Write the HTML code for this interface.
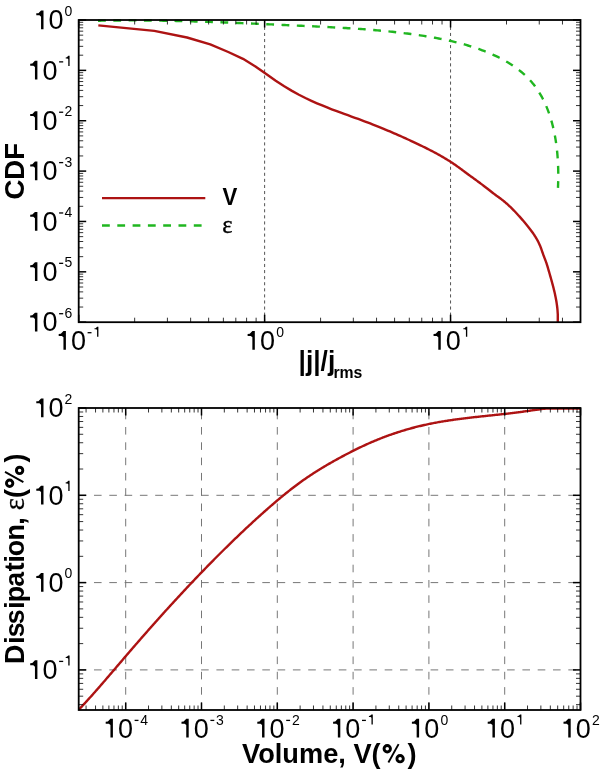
<!DOCTYPE html>
<html><head><meta charset="utf-8"><style>
html,body{margin:0;padding:0;background:#fff;}
svg{display:block;will-change:transform;}
.t{font-family:"Liberation Sans",sans-serif;font-size:26px;fill:#000;}
.s{font-size:14px;}
.b{font-family:"Liberation Sans",sans-serif;font-weight:bold;fill:#000;}
.e{font-family:"Liberation Serif",serif;fill:#000;}
</style></head><body>
<svg width="600" height="769" viewBox="0 0 600 769">
<rect width="600" height="769" fill="#fff"/>
<line x1="264.62" y1="20.00" x2="264.62" y2="322.20" stroke="#555" stroke-width="1" stroke-dasharray="3.1 2.98" stroke-dashoffset="-0.75"/>
<line x1="450.55" y1="20.00" x2="450.55" y2="322.20" stroke="#555" stroke-width="1" stroke-dasharray="3.1 2.98" stroke-dashoffset="-0.75"/>
<path d="M98.03,20.74 L99.89,20.70 L101.74,20.67 L103.60,20.64 L105.46,20.61 L107.32,20.58 L109.19,20.55 L111.05,20.53 L112.91,20.51 L114.77,20.49 L116.63,20.47 L118.49,20.46 L120.35,20.44 L122.22,20.43 L124.08,20.43 L125.94,20.42 L127.81,20.42 L129.67,20.41 L131.53,20.41 L133.40,20.42 L135.26,20.42 L137.13,20.42 L138.99,20.43 L140.85,20.44 L142.72,20.45 L144.58,20.47 L146.45,20.48 L148.32,20.50 L150.18,20.52 L152.05,20.54 L153.91,20.56 L155.78,20.58 L157.65,20.61 L159.51,20.63 L161.38,20.66 L163.25,20.69 L165.11,20.73 L166.98,20.76 L168.85,20.79 L170.71,20.83 L172.58,20.87 L174.45,20.91 L176.32,20.95 L178.19,20.99 L180.05,21.03 L181.92,21.08 L183.79,21.13 L185.66,21.17 L187.52,21.22 L189.39,21.27 L191.26,21.33 L193.13,21.38 L195.00,21.43 L196.87,21.49 L198.73,21.54 L200.60,21.60 L202.47,21.66 L204.34,21.72 L206.21,21.78 L208.08,21.84 L209.95,21.91 L211.81,21.97 L213.68,22.04 L215.55,22.10 L217.42,22.17 L219.29,22.24 L221.16,22.31 L223.02,22.38 L224.89,22.45 L226.76,22.52 L228.63,22.59 L230.50,22.66 L232.36,22.74 L234.23,22.81 L236.10,22.89 L237.97,22.96 L239.84,23.04 L241.70,23.12 L243.57,23.19 L245.44,23.27 L247.30,23.35 L249.17,23.43 L251.04,23.51 L252.91,23.59 L254.77,23.67 L256.64,23.76 L258.51,23.84 L260.37,23.92 L262.24,24.00 L264.10,24.09 L265.97,24.17 L267.83,24.25 L269.70,24.34 L271.57,24.42 L273.43,24.51 L275.30,24.59 L277.16,24.68 L279.02,24.76 L280.89,24.85 L282.75,24.94 L284.62,25.02 L286.48,25.11 L288.34,25.19 L290.21,25.28 L292.07,25.37 L293.93,25.45 L295.79,25.54 L297.66,25.62 L299.52,25.71 L301.38,25.80 L303.24,25.88 L305.10,25.97 L306.96,26.05 L308.82,26.14 L310.68,26.23 L312.54,26.31 L314.40,26.40 L316.26,26.49 L318.12,26.58 L319.98,26.67 L321.84,26.76 L323.70,26.85 L325.55,26.94 L327.41,27.04 L329.27,27.13 L331.13,27.23 L332.98,27.33 L334.84,27.43 L336.70,27.53 L338.56,27.63 L340.41,27.74 L342.27,27.84 L344.13,27.95 L345.98,28.06 L347.84,28.18 L349.69,28.29 L351.55,28.41 L353.40,28.53 L355.26,28.65 L357.12,28.78 L358.97,28.91 L360.83,29.04 L362.68,29.17 L364.54,29.31 L366.39,29.45 L368.25,29.60 L370.10,29.75 L371.96,29.90 L373.81,30.05 L375.67,30.21 L377.52,30.37 L379.37,30.54 L381.23,30.71 L383.08,30.88 L384.94,31.06 L386.79,31.24 L388.65,31.43 L390.50,31.62 L392.35,31.81 L394.21,32.01 L396.06,32.22 L397.92,32.43 L399.77,32.64 L401.63,32.86 L403.48,33.09 L405.33,33.32 L407.19,33.55 L409.04,33.79 L410.90,34.04 L412.75,34.29 L414.61,34.55 L416.46,34.81 L418.31,35.08 L420.17,35.35 L422.02,35.64 L423.88,35.92 L425.73,36.22 L427.59,36.52 L429.44,36.82 L431.30,37.14 L433.15,37.46 L435.00,37.79 L436.85,38.13 L438.70,38.48 L440.55,38.83 L442.39,39.20 L444.24,39.57 L446.08,39.96 L447.92,40.36 L449.76,40.76 L451.60,41.18 L453.43,41.61 L455.26,42.05 L457.09,42.50 L458.91,42.97 L460.73,43.44 L462.55,43.93 L464.36,44.44 L466.17,44.95 L467.97,45.48 L469.78,46.03 L471.57,46.59 L473.36,47.16 L475.15,47.75 L476.93,48.36 L478.71,48.98 L480.48,49.61 L482.25,50.27 L484.01,50.94 L485.76,51.62 L487.51,52.33 L489.25,53.05 L490.98,53.79 L492.70,54.55 L494.41,55.33 L496.11,56.12 L497.80,56.94 L499.47,57.78 L501.13,58.63 L502.78,59.51 L504.41,60.40 L506.02,61.32 L507.62,62.26 L509.20,63.22 L510.76,64.20 L512.31,65.21 L513.83,66.24 L515.33,67.29 L516.81,68.36 L518.27,69.46 L519.70,70.58 L521.11,71.72 L522.50,72.89 L523.86,74.09 L525.19,75.31 L526.50,76.55 L527.78,77.82 L529.03,79.12 L530.25,80.44 L531.44,81.79 L532.60,83.17 L533.73,84.57 L534.83,86.00 L535.89,87.46 L536.93,88.94 L537.94,90.44 L538.92,91.97 L539.87,93.52 L540.79,95.09 L541.68,96.68 L542.54,98.29 L543.38,99.93 L544.19,101.58 L544.98,103.25 L545.73,104.93 L546.46,106.64 L547.17,108.36 L547.85,110.09 L548.50,111.84 L549.13,113.61 L549.73,115.39 L550.32,117.18 L550.87,118.98 L551.41,120.79 L551.92,122.62 L552.40,124.45 L552.87,126.30 L553.31,128.15 L553.74,130.01 L554.14,131.88 L554.52,133.76 L554.88,135.64 L555.21,137.52 L555.53,139.41 L555.83,141.31 L556.11,143.21 L556.37,145.11 L556.62,147.01 L556.84,148.91 L557.05,150.81 L557.24,152.72 L557.41,154.62 L557.56,156.52 L557.70,158.42 L557.82,160.31 L557.93,162.20 L558.02,164.09 L558.10,165.97 L558.16,167.84 L558.21,169.71 L558.24,171.57 L558.26,173.43 L558.27,175.27 L558.26,177.11 L558.24,178.93 L558.21,180.75 L558.16,182.55 L558.11,184.34 L558.04,186.12 L557.97,187.89" fill="none" stroke="#20b620" stroke-width="2.4" stroke-linejoin="round" stroke-dasharray="7.8 7.5" stroke-linecap="butt"/>
<path d="M98.32,25.40 L154.29,30.90 L187.02,37.50 L210.25,44.30 L228.27,52.00 L242.99,58.80 L255.44,66.50 L266.22,73.99 L275.73,80.67 L284.24,86.28 L291.94,90.87 L298.96,94.70 L305.42,97.97 L311.41,100.79 L316.98,103.28 L322.19,105.48 L327.09,107.46 L331.70,109.26 L336.07,110.90 L340.21,112.43 L344.15,113.86 L347.90,115.22 L351.49,116.51 L354.93,117.76 L358.23,118.96 L361.39,120.13 L364.44,121.27 L367.38,122.39 L370.21,123.48 L372.95,124.55 L375.59,125.60 L378.16,126.63 L380.64,127.63 L383.05,128.62 L385.39,129.58 L387.67,130.53 L389.88,131.47 L392.03,132.39 L394.13,133.29 L396.18,134.17 L398.17,135.05 L400.12,135.91 L402.02,136.75 L403.87,137.59 L405.69,138.41 L407.46,139.22 L409.20,140.01 L410.90,140.80 L412.56,141.58 L414.19,142.34 L415.79,143.10 L417.36,143.84 L418.90,144.58 L420.41,145.31 L421.89,146.03 L423.34,146.74 L424.77,147.44 L426.18,148.14 L427.56,148.83 L428.92,149.52 L430.25,150.20 L431.56,150.88 L432.86,151.55 L434.13,152.23 L435.38,152.89 L436.61,153.56 L437.83,154.23 L439.02,154.89 L440.20,155.55 L441.36,156.21 L442.51,156.87 L443.64,157.53 L444.75,158.19 L445.85,158.85 L446.93,159.51 L448.00,160.17 L449.06,160.84 L450.10,161.50 L451.13,162.17 L452.14,162.83 L453.15,163.50 L454.14,164.17 L455.12,164.85 L456.08,165.52 L457.04,166.20 L457.98,166.88 L458.92,167.55 L459.84,168.23 L460.75,168.90 L461.65,169.57 L462.55,170.23 L463.43,170.89 L464.30,171.54 L465.17,172.18 L466.02,172.82 L466.87,173.45 L467.70,174.06 L468.53,174.67 L469.35,175.27 L470.16,175.86 L470.97,176.44 L471.76,177.02 L472.55,177.58 L473.33,178.15 L474.10,178.70 L474.87,179.26 L475.63,179.81 L476.38,180.36 L477.12,180.90 L477.86,181.45 L478.59,181.99 L479.31,182.52 L480.03,183.06 L480.74,183.59 L481.45,184.12 L482.15,184.64 L482.84,185.17 L483.53,185.69 L484.21,186.21 L484.88,186.72 L485.55,187.24 L486.22,187.75 L486.88,188.26 L487.53,188.76 L488.18,189.27 L488.82,189.77 L489.46,190.27 L490.10,190.77 L490.72,191.26 L491.35,191.75 L491.97,192.23 L492.58,192.71 L493.19,193.18 L493.79,193.64 L494.39,194.10 L494.99,194.54 L495.58,194.98 L496.17,195.41 L496.75,195.84 L497.33,196.26 L497.91,196.68 L498.48,197.09 L499.04,197.51 L499.61,197.92 L500.16,198.33 L500.72,198.74 L501.27,199.16 L501.82,199.58 L502.36,200.00 L502.90,200.43 L503.44,200.86 L503.97,201.29 L504.50,201.73 L505.03,202.17 L505.55,202.61 L506.07,203.06 L506.58,203.51 L507.10,203.96 L507.61,204.42 L508.11,204.87 L508.62,205.34 L509.12,205.80 L509.61,206.26 L510.11,206.73 L510.60,207.20 L511.09,207.67 L511.57,208.15 L512.05,208.63 L512.53,209.10 L513.01,209.58 L513.48,210.07 L513.95,210.55 L514.42,211.03 L514.89,211.52 L515.35,212.01 L515.81,212.49 L516.27,212.98 L516.72,213.47 L517.17,213.96 L517.62,214.45 L518.07,214.94 L518.52,215.44 L518.96,215.93 L519.40,216.42 L519.84,216.91 L520.27,217.40 L520.70,217.89 L521.13,218.38 L521.56,218.87 L521.99,219.36 L522.41,219.85 L522.83,220.34 L523.25,220.83 L523.67,221.32 L524.09,221.80 L524.50,222.29 L524.91,222.77 L525.32,223.26 L525.73,223.74 L526.13,224.23 L526.53,224.72 L526.93,225.20 L527.33,225.69 L527.73,226.18 L528.12,226.67 L528.52,227.16 L528.91,227.66 L529.30,228.15 L529.68,228.65 L530.07,229.15 L530.45,229.66 L530.84,230.16 L531.22,230.67 L531.59,231.19 L531.97,231.71 L532.34,232.23 L532.72,232.76 L533.09,233.29 L533.46,233.83 L533.83,234.37 L534.19,234.92 L534.56,235.48 L534.92,236.04 L535.28,236.62 L535.64,237.20 L536.00,237.79 L536.36,238.39 L536.71,239.00 L537.06,239.63 L537.42,240.26 L537.77,240.91 L538.11,241.58 L538.46,242.27 L538.81,242.97 L539.15,243.69 L539.50,244.44 L539.84,245.22 L540.18,246.02 L540.52,246.86 L540.85,247.74 L541.19,248.65 L541.52,249.60 L541.86,250.56 L542.19,251.54 L542.52,252.50 L542.85,253.46 L543.17,254.39 L543.50,255.28 L543.82,256.15 L544.15,256.99 L544.47,257.83 L544.79,258.65 L545.11,259.48 L545.43,260.31 L545.75,261.16 L546.06,262.03 L546.38,262.92 L546.69,263.86 L547.00,264.83 L547.32,265.83 L547.63,266.86 L547.93,267.92 L548.24,268.98 L548.55,270.06 L548.85,271.12 L549.16,272.18 L549.46,273.24 L549.76,274.29 L550.06,275.35 L550.36,276.39 L550.66,277.44 L550.96,278.50 L551.25,279.55 L551.55,280.61 L551.84,281.67 L552.14,282.74 L552.43,283.82 L552.72,284.91 L553.01,286.02 L553.30,287.14 L553.59,288.27 L553.87,289.43 L554.16,290.60 L554.44,291.81 L554.73,293.05 L555.01,294.32 L555.29,295.64 L555.57,297.01 L555.85,298.45 L556.13,299.97 L556.41,301.58 L556.69,303.33 L556.96,305.27 L557.24,307.49 L557.51,310.22 L557.79,314.41 L557.79,322.30" fill="none" stroke="#ad1313" stroke-width="2.4" stroke-linejoin="round" />
<line x1="78.70" y1="322.20" x2="78.70" y2="314.70" stroke="#000" stroke-width="1.5" />
<line x1="78.70" y1="20.00" x2="78.70" y2="27.50" stroke="#000" stroke-width="1.5" />
<line x1="134.67" y1="322.20" x2="134.67" y2="317.70" stroke="#000" stroke-width="0.8" />
<line x1="134.67" y1="20.00" x2="134.67" y2="24.50" stroke="#000" stroke-width="0.8" />
<line x1="167.41" y1="322.20" x2="167.41" y2="317.70" stroke="#000" stroke-width="0.8" />
<line x1="167.41" y1="20.00" x2="167.41" y2="24.50" stroke="#000" stroke-width="0.8" />
<line x1="190.64" y1="322.20" x2="190.64" y2="317.70" stroke="#000" stroke-width="0.8" />
<line x1="190.64" y1="20.00" x2="190.64" y2="24.50" stroke="#000" stroke-width="0.8" />
<line x1="208.65" y1="322.20" x2="208.65" y2="317.70" stroke="#000" stroke-width="0.8" />
<line x1="208.65" y1="20.00" x2="208.65" y2="24.50" stroke="#000" stroke-width="0.8" />
<line x1="223.38" y1="322.20" x2="223.38" y2="317.70" stroke="#000" stroke-width="0.8" />
<line x1="223.38" y1="20.00" x2="223.38" y2="24.50" stroke="#000" stroke-width="0.8" />
<line x1="235.82" y1="322.20" x2="235.82" y2="317.70" stroke="#000" stroke-width="0.8" />
<line x1="235.82" y1="20.00" x2="235.82" y2="24.50" stroke="#000" stroke-width="0.8" />
<line x1="246.60" y1="322.20" x2="246.60" y2="317.70" stroke="#000" stroke-width="0.8" />
<line x1="246.60" y1="20.00" x2="246.60" y2="24.50" stroke="#000" stroke-width="0.8" />
<line x1="256.12" y1="322.20" x2="256.12" y2="317.70" stroke="#000" stroke-width="0.8" />
<line x1="256.12" y1="20.00" x2="256.12" y2="24.50" stroke="#000" stroke-width="0.8" />
<line x1="264.62" y1="322.20" x2="264.62" y2="314.70" stroke="#000" stroke-width="1.5" />
<line x1="264.62" y1="20.00" x2="264.62" y2="27.50" stroke="#000" stroke-width="1.5" />
<line x1="320.59" y1="322.20" x2="320.59" y2="317.70" stroke="#000" stroke-width="0.8" />
<line x1="320.59" y1="20.00" x2="320.59" y2="24.50" stroke="#000" stroke-width="0.8" />
<line x1="353.33" y1="322.20" x2="353.33" y2="317.70" stroke="#000" stroke-width="0.8" />
<line x1="353.33" y1="20.00" x2="353.33" y2="24.50" stroke="#000" stroke-width="0.8" />
<line x1="376.56" y1="322.20" x2="376.56" y2="317.70" stroke="#000" stroke-width="0.8" />
<line x1="376.56" y1="20.00" x2="376.56" y2="24.50" stroke="#000" stroke-width="0.8" />
<line x1="394.58" y1="322.20" x2="394.58" y2="317.70" stroke="#000" stroke-width="0.8" />
<line x1="394.58" y1="20.00" x2="394.58" y2="24.50" stroke="#000" stroke-width="0.8" />
<line x1="409.30" y1="322.20" x2="409.30" y2="317.70" stroke="#000" stroke-width="0.8" />
<line x1="409.30" y1="20.00" x2="409.30" y2="24.50" stroke="#000" stroke-width="0.8" />
<line x1="421.75" y1="322.20" x2="421.75" y2="317.70" stroke="#000" stroke-width="0.8" />
<line x1="421.75" y1="20.00" x2="421.75" y2="24.50" stroke="#000" stroke-width="0.8" />
<line x1="432.53" y1="322.20" x2="432.53" y2="317.70" stroke="#000" stroke-width="0.8" />
<line x1="432.53" y1="20.00" x2="432.53" y2="24.50" stroke="#000" stroke-width="0.8" />
<line x1="442.04" y1="322.20" x2="442.04" y2="317.70" stroke="#000" stroke-width="0.8" />
<line x1="442.04" y1="20.00" x2="442.04" y2="24.50" stroke="#000" stroke-width="0.8" />
<line x1="450.55" y1="322.20" x2="450.55" y2="314.70" stroke="#000" stroke-width="1.5" />
<line x1="450.55" y1="20.00" x2="450.55" y2="27.50" stroke="#000" stroke-width="1.5" />
<line x1="506.51" y1="322.20" x2="506.51" y2="317.70" stroke="#000" stroke-width="0.8" />
<line x1="506.51" y1="20.00" x2="506.51" y2="24.50" stroke="#000" stroke-width="0.8" />
<line x1="539.25" y1="322.20" x2="539.25" y2="317.70" stroke="#000" stroke-width="0.8" />
<line x1="539.25" y1="20.00" x2="539.25" y2="24.50" stroke="#000" stroke-width="0.8" />
<line x1="562.48" y1="322.20" x2="562.48" y2="317.70" stroke="#000" stroke-width="0.8" />
<line x1="562.48" y1="20.00" x2="562.48" y2="24.50" stroke="#000" stroke-width="0.8" />
<line x1="580.50" y1="322.20" x2="580.50" y2="317.70" stroke="#000" stroke-width="0.8" />
<line x1="580.50" y1="20.00" x2="580.50" y2="24.50" stroke="#000" stroke-width="0.8" />
<line x1="78.70" y1="322.20" x2="86.20" y2="322.20" stroke="#000" stroke-width="1.5" />
<line x1="580.50" y1="322.20" x2="573.00" y2="322.20" stroke="#000" stroke-width="1.5" />
<line x1="78.70" y1="307.04" x2="83.20" y2="307.04" stroke="#000" stroke-width="0.8" />
<line x1="580.50" y1="307.04" x2="576.00" y2="307.04" stroke="#000" stroke-width="0.8" />
<line x1="78.70" y1="298.17" x2="83.20" y2="298.17" stroke="#000" stroke-width="0.8" />
<line x1="580.50" y1="298.17" x2="576.00" y2="298.17" stroke="#000" stroke-width="0.8" />
<line x1="78.70" y1="291.88" x2="83.20" y2="291.88" stroke="#000" stroke-width="0.8" />
<line x1="580.50" y1="291.88" x2="576.00" y2="291.88" stroke="#000" stroke-width="0.8" />
<line x1="78.70" y1="287.00" x2="83.20" y2="287.00" stroke="#000" stroke-width="0.8" />
<line x1="580.50" y1="287.00" x2="576.00" y2="287.00" stroke="#000" stroke-width="0.8" />
<line x1="78.70" y1="283.01" x2="83.20" y2="283.01" stroke="#000" stroke-width="0.8" />
<line x1="580.50" y1="283.01" x2="576.00" y2="283.01" stroke="#000" stroke-width="0.8" />
<line x1="78.70" y1="279.64" x2="83.20" y2="279.64" stroke="#000" stroke-width="0.8" />
<line x1="580.50" y1="279.64" x2="576.00" y2="279.64" stroke="#000" stroke-width="0.8" />
<line x1="78.70" y1="276.71" x2="83.20" y2="276.71" stroke="#000" stroke-width="0.8" />
<line x1="580.50" y1="276.71" x2="576.00" y2="276.71" stroke="#000" stroke-width="0.8" />
<line x1="78.70" y1="274.14" x2="83.20" y2="274.14" stroke="#000" stroke-width="0.8" />
<line x1="580.50" y1="274.14" x2="576.00" y2="274.14" stroke="#000" stroke-width="0.8" />
<line x1="78.70" y1="271.83" x2="86.20" y2="271.83" stroke="#000" stroke-width="1.5" />
<line x1="580.50" y1="271.83" x2="573.00" y2="271.83" stroke="#000" stroke-width="1.5" />
<line x1="78.70" y1="256.67" x2="83.20" y2="256.67" stroke="#000" stroke-width="0.8" />
<line x1="580.50" y1="256.67" x2="576.00" y2="256.67" stroke="#000" stroke-width="0.8" />
<line x1="78.70" y1="247.80" x2="83.20" y2="247.80" stroke="#000" stroke-width="0.8" />
<line x1="580.50" y1="247.80" x2="576.00" y2="247.80" stroke="#000" stroke-width="0.8" />
<line x1="78.70" y1="241.51" x2="83.20" y2="241.51" stroke="#000" stroke-width="0.8" />
<line x1="580.50" y1="241.51" x2="576.00" y2="241.51" stroke="#000" stroke-width="0.8" />
<line x1="78.70" y1="236.63" x2="83.20" y2="236.63" stroke="#000" stroke-width="0.8" />
<line x1="580.50" y1="236.63" x2="576.00" y2="236.63" stroke="#000" stroke-width="0.8" />
<line x1="78.70" y1="232.64" x2="83.20" y2="232.64" stroke="#000" stroke-width="0.8" />
<line x1="580.50" y1="232.64" x2="576.00" y2="232.64" stroke="#000" stroke-width="0.8" />
<line x1="78.70" y1="229.27" x2="83.20" y2="229.27" stroke="#000" stroke-width="0.8" />
<line x1="580.50" y1="229.27" x2="576.00" y2="229.27" stroke="#000" stroke-width="0.8" />
<line x1="78.70" y1="226.35" x2="83.20" y2="226.35" stroke="#000" stroke-width="0.8" />
<line x1="580.50" y1="226.35" x2="576.00" y2="226.35" stroke="#000" stroke-width="0.8" />
<line x1="78.70" y1="223.77" x2="83.20" y2="223.77" stroke="#000" stroke-width="0.8" />
<line x1="580.50" y1="223.77" x2="576.00" y2="223.77" stroke="#000" stroke-width="0.8" />
<line x1="78.70" y1="221.47" x2="86.20" y2="221.47" stroke="#000" stroke-width="1.5" />
<line x1="580.50" y1="221.47" x2="573.00" y2="221.47" stroke="#000" stroke-width="1.5" />
<line x1="78.70" y1="206.30" x2="83.20" y2="206.30" stroke="#000" stroke-width="0.8" />
<line x1="580.50" y1="206.30" x2="576.00" y2="206.30" stroke="#000" stroke-width="0.8" />
<line x1="78.70" y1="197.44" x2="83.20" y2="197.44" stroke="#000" stroke-width="0.8" />
<line x1="580.50" y1="197.44" x2="576.00" y2="197.44" stroke="#000" stroke-width="0.8" />
<line x1="78.70" y1="191.14" x2="83.20" y2="191.14" stroke="#000" stroke-width="0.8" />
<line x1="580.50" y1="191.14" x2="576.00" y2="191.14" stroke="#000" stroke-width="0.8" />
<line x1="78.70" y1="186.26" x2="83.20" y2="186.26" stroke="#000" stroke-width="0.8" />
<line x1="580.50" y1="186.26" x2="576.00" y2="186.26" stroke="#000" stroke-width="0.8" />
<line x1="78.70" y1="182.27" x2="83.20" y2="182.27" stroke="#000" stroke-width="0.8" />
<line x1="580.50" y1="182.27" x2="576.00" y2="182.27" stroke="#000" stroke-width="0.8" />
<line x1="78.70" y1="178.90" x2="83.20" y2="178.90" stroke="#000" stroke-width="0.8" />
<line x1="580.50" y1="178.90" x2="576.00" y2="178.90" stroke="#000" stroke-width="0.8" />
<line x1="78.70" y1="175.98" x2="83.20" y2="175.98" stroke="#000" stroke-width="0.8" />
<line x1="580.50" y1="175.98" x2="576.00" y2="175.98" stroke="#000" stroke-width="0.8" />
<line x1="78.70" y1="173.40" x2="83.20" y2="173.40" stroke="#000" stroke-width="0.8" />
<line x1="580.50" y1="173.40" x2="576.00" y2="173.40" stroke="#000" stroke-width="0.8" />
<line x1="78.70" y1="171.10" x2="86.20" y2="171.10" stroke="#000" stroke-width="1.5" />
<line x1="580.50" y1="171.10" x2="573.00" y2="171.10" stroke="#000" stroke-width="1.5" />
<line x1="78.70" y1="155.94" x2="83.20" y2="155.94" stroke="#000" stroke-width="0.8" />
<line x1="580.50" y1="155.94" x2="576.00" y2="155.94" stroke="#000" stroke-width="0.8" />
<line x1="78.70" y1="147.07" x2="83.20" y2="147.07" stroke="#000" stroke-width="0.8" />
<line x1="580.50" y1="147.07" x2="576.00" y2="147.07" stroke="#000" stroke-width="0.8" />
<line x1="78.70" y1="140.78" x2="83.20" y2="140.78" stroke="#000" stroke-width="0.8" />
<line x1="580.50" y1="140.78" x2="576.00" y2="140.78" stroke="#000" stroke-width="0.8" />
<line x1="78.70" y1="135.90" x2="83.20" y2="135.90" stroke="#000" stroke-width="0.8" />
<line x1="580.50" y1="135.90" x2="576.00" y2="135.90" stroke="#000" stroke-width="0.8" />
<line x1="78.70" y1="131.91" x2="83.20" y2="131.91" stroke="#000" stroke-width="0.8" />
<line x1="580.50" y1="131.91" x2="576.00" y2="131.91" stroke="#000" stroke-width="0.8" />
<line x1="78.70" y1="128.54" x2="83.20" y2="128.54" stroke="#000" stroke-width="0.8" />
<line x1="580.50" y1="128.54" x2="576.00" y2="128.54" stroke="#000" stroke-width="0.8" />
<line x1="78.70" y1="125.61" x2="83.20" y2="125.61" stroke="#000" stroke-width="0.8" />
<line x1="580.50" y1="125.61" x2="576.00" y2="125.61" stroke="#000" stroke-width="0.8" />
<line x1="78.70" y1="123.04" x2="83.20" y2="123.04" stroke="#000" stroke-width="0.8" />
<line x1="580.50" y1="123.04" x2="576.00" y2="123.04" stroke="#000" stroke-width="0.8" />
<line x1="78.70" y1="120.73" x2="86.20" y2="120.73" stroke="#000" stroke-width="1.5" />
<line x1="580.50" y1="120.73" x2="573.00" y2="120.73" stroke="#000" stroke-width="1.5" />
<line x1="78.70" y1="105.57" x2="83.20" y2="105.57" stroke="#000" stroke-width="0.8" />
<line x1="580.50" y1="105.57" x2="576.00" y2="105.57" stroke="#000" stroke-width="0.8" />
<line x1="78.70" y1="96.70" x2="83.20" y2="96.70" stroke="#000" stroke-width="0.8" />
<line x1="580.50" y1="96.70" x2="576.00" y2="96.70" stroke="#000" stroke-width="0.8" />
<line x1="78.70" y1="90.41" x2="83.20" y2="90.41" stroke="#000" stroke-width="0.8" />
<line x1="580.50" y1="90.41" x2="576.00" y2="90.41" stroke="#000" stroke-width="0.8" />
<line x1="78.70" y1="85.53" x2="83.20" y2="85.53" stroke="#000" stroke-width="0.8" />
<line x1="580.50" y1="85.53" x2="576.00" y2="85.53" stroke="#000" stroke-width="0.8" />
<line x1="78.70" y1="81.54" x2="83.20" y2="81.54" stroke="#000" stroke-width="0.8" />
<line x1="580.50" y1="81.54" x2="576.00" y2="81.54" stroke="#000" stroke-width="0.8" />
<line x1="78.70" y1="78.17" x2="83.20" y2="78.17" stroke="#000" stroke-width="0.8" />
<line x1="580.50" y1="78.17" x2="576.00" y2="78.17" stroke="#000" stroke-width="0.8" />
<line x1="78.70" y1="75.25" x2="83.20" y2="75.25" stroke="#000" stroke-width="0.8" />
<line x1="580.50" y1="75.25" x2="576.00" y2="75.25" stroke="#000" stroke-width="0.8" />
<line x1="78.70" y1="72.67" x2="83.20" y2="72.67" stroke="#000" stroke-width="0.8" />
<line x1="580.50" y1="72.67" x2="576.00" y2="72.67" stroke="#000" stroke-width="0.8" />
<line x1="78.70" y1="70.37" x2="86.20" y2="70.37" stroke="#000" stroke-width="1.5" />
<line x1="580.50" y1="70.37" x2="573.00" y2="70.37" stroke="#000" stroke-width="1.5" />
<line x1="78.70" y1="55.20" x2="83.20" y2="55.20" stroke="#000" stroke-width="0.8" />
<line x1="580.50" y1="55.20" x2="576.00" y2="55.20" stroke="#000" stroke-width="0.8" />
<line x1="78.70" y1="46.34" x2="83.20" y2="46.34" stroke="#000" stroke-width="0.8" />
<line x1="580.50" y1="46.34" x2="576.00" y2="46.34" stroke="#000" stroke-width="0.8" />
<line x1="78.70" y1="40.04" x2="83.20" y2="40.04" stroke="#000" stroke-width="0.8" />
<line x1="580.50" y1="40.04" x2="576.00" y2="40.04" stroke="#000" stroke-width="0.8" />
<line x1="78.70" y1="35.16" x2="83.20" y2="35.16" stroke="#000" stroke-width="0.8" />
<line x1="580.50" y1="35.16" x2="576.00" y2="35.16" stroke="#000" stroke-width="0.8" />
<line x1="78.70" y1="31.17" x2="83.20" y2="31.17" stroke="#000" stroke-width="0.8" />
<line x1="580.50" y1="31.17" x2="576.00" y2="31.17" stroke="#000" stroke-width="0.8" />
<line x1="78.70" y1="27.80" x2="83.20" y2="27.80" stroke="#000" stroke-width="0.8" />
<line x1="580.50" y1="27.80" x2="576.00" y2="27.80" stroke="#000" stroke-width="0.8" />
<line x1="78.70" y1="24.88" x2="83.20" y2="24.88" stroke="#000" stroke-width="0.8" />
<line x1="580.50" y1="24.88" x2="576.00" y2="24.88" stroke="#000" stroke-width="0.8" />
<line x1="78.70" y1="22.30" x2="83.20" y2="22.30" stroke="#000" stroke-width="0.8" />
<line x1="580.50" y1="22.30" x2="576.00" y2="22.30" stroke="#000" stroke-width="0.8" />
<line x1="78.70" y1="20.00" x2="86.20" y2="20.00" stroke="#000" stroke-width="1.5" />
<line x1="580.50" y1="20.00" x2="573.00" y2="20.00" stroke="#000" stroke-width="1.5" />
<rect x="78.7" y="20.0" width="501.80" height="302.20" fill="none" stroke="#000" stroke-width="1.8"/>
<text transform="translate(63.60,29.20) scale(1.04,1.05)" text-anchor="end" class="t" style="font-size:26px">0</text>
<path d="M43.50,29.20 L43.50,10.45 L41.05,10.45 L38.45,13.15 L36.30,13.35 L36.30,15.35 L39.45,15.35 L41.05,16.75 L41.05,29.20Z" fill="#000"/>
<text transform="translate(72.30,15.60) scale(1.0,1.05)" text-anchor="end" class="t" style="font-size:14px">0</text>
<text transform="translate(57.50,79.57) scale(1.04,1.05)" text-anchor="end" class="t" style="font-size:26px">0</text>
<path d="M37.40,79.57 L37.40,60.82 L34.95,60.82 L32.35,63.52 L30.20,63.72 L30.20,65.72 L33.35,65.72 L34.95,67.12 L34.95,79.57Z" fill="#000"/>
<path d="M69.60,65.97 L69.60,55.87 L68.28,55.87 L66.88,57.32 L65.72,57.43 L65.72,58.51 L67.42,58.51 L68.28,59.26 L68.28,65.97Z" fill="#000"/>
<line x1="59.10" y1="61.87" x2="63.20" y2="61.87" stroke="#000" stroke-width="1.3"/>
<text transform="translate(57.50,129.93) scale(1.04,1.05)" text-anchor="end" class="t" style="font-size:26px">0</text>
<path d="M37.40,129.93 L37.40,111.18 L34.95,111.18 L32.35,113.88 L30.20,114.08 L30.20,116.08 L33.35,116.08 L34.95,117.48 L34.95,129.93Z" fill="#000"/>
<text transform="translate(72.30,116.33) scale(1.0,1.05)" text-anchor="end" class="t" style="font-size:14px">2</text>
<line x1="59.10" y1="112.23" x2="63.20" y2="112.23" stroke="#000" stroke-width="1.3"/>
<text transform="translate(57.50,180.30) scale(1.04,1.05)" text-anchor="end" class="t" style="font-size:26px">0</text>
<path d="M37.40,180.30 L37.40,161.55 L34.95,161.55 L32.35,164.25 L30.20,164.45 L30.20,166.45 L33.35,166.45 L34.95,167.85 L34.95,180.30Z" fill="#000"/>
<text transform="translate(72.30,166.70) scale(1.0,1.05)" text-anchor="end" class="t" style="font-size:14px">3</text>
<line x1="59.10" y1="162.60" x2="63.20" y2="162.60" stroke="#000" stroke-width="1.3"/>
<text transform="translate(57.50,230.67) scale(1.04,1.05)" text-anchor="end" class="t" style="font-size:26px">0</text>
<path d="M37.40,230.67 L37.40,211.92 L34.95,211.92 L32.35,214.62 L30.20,214.82 L30.20,216.82 L33.35,216.82 L34.95,218.22 L34.95,230.67Z" fill="#000"/>
<text transform="translate(72.30,217.07) scale(1.0,1.05)" text-anchor="end" class="t" style="font-size:14px">4</text>
<line x1="59.10" y1="212.97" x2="63.20" y2="212.97" stroke="#000" stroke-width="1.3"/>
<text transform="translate(57.50,281.03) scale(1.04,1.05)" text-anchor="end" class="t" style="font-size:26px">0</text>
<path d="M37.40,281.03 L37.40,262.28 L34.95,262.28 L32.35,264.98 L30.20,265.18 L30.20,267.18 L33.35,267.18 L34.95,268.58 L34.95,281.03Z" fill="#000"/>
<text transform="translate(72.30,267.43) scale(1.0,1.05)" text-anchor="end" class="t" style="font-size:14px">5</text>
<line x1="59.10" y1="263.33" x2="63.20" y2="263.33" stroke="#000" stroke-width="1.3"/>
<text transform="translate(57.50,331.40) scale(1.04,1.05)" text-anchor="end" class="t" style="font-size:26px">0</text>
<path d="M37.40,331.40 L37.40,312.65 L34.95,312.65 L32.35,315.35 L30.20,315.55 L30.20,317.55 L33.35,317.55 L34.95,318.95 L34.95,331.40Z" fill="#000"/>
<text transform="translate(72.30,317.80) scale(1.0,1.05)" text-anchor="end" class="t" style="font-size:14px">6</text>
<line x1="59.10" y1="313.70" x2="63.20" y2="313.70" stroke="#000" stroke-width="1.3"/>
<text transform="translate(86.00,349.80) scale(1.04,1.05)" text-anchor="end" class="t" style="font-size:26px">0</text>
<path d="M65.90,349.80 L65.90,331.05 L63.45,331.05 L60.85,333.75 L58.70,333.95 L58.70,335.95 L61.85,335.95 L63.45,337.35 L63.45,349.80Z" fill="#000"/>
<path d="M98.40,336.80 L98.40,326.70 L97.08,326.70 L95.68,328.16 L94.52,328.27 L94.52,329.34 L96.22,329.34 L97.08,330.10 L97.08,336.80Z" fill="#000"/>
<line x1="87.60" y1="332.70" x2="91.50" y2="332.70" stroke="#000" stroke-width="1.3"/>
<text transform="translate(274.92,349.80) scale(1.04,1.05)" text-anchor="end" class="t" style="font-size:26px">0</text>
<path d="M254.82,349.80 L254.82,331.05 L252.37,331.05 L249.77,333.75 L247.62,333.95 L247.62,335.95 L250.77,335.95 L252.37,337.35 L252.37,349.80Z" fill="#000"/>
<text transform="translate(284.02,336.80) scale(1.0,1.05)" text-anchor="end" class="t" style="font-size:14px">0</text>
<text transform="translate(460.85,349.80) scale(1.04,1.05)" text-anchor="end" class="t" style="font-size:26px">0</text>
<path d="M440.75,349.80 L440.75,331.05 L438.30,331.05 L435.70,333.75 L433.55,333.95 L433.55,335.95 L436.70,335.95 L438.30,337.35 L438.30,349.80Z" fill="#000"/>
<path d="M467.25,336.80 L467.25,326.70 L465.93,326.70 L464.53,328.16 L463.37,328.27 L463.37,329.34 L465.06,329.34 L465.93,330.10 L465.93,336.80Z" fill="#000"/>
<line x1="102.00" y1="198.10" x2="205.30" y2="198.10" stroke="#ad1313" stroke-width="2.4" />
<line x1="102.00" y1="225.50" x2="206.00" y2="225.50" stroke="#20b620" stroke-width="2.4" stroke-dasharray="7.8 7.5"/>
<text transform="translate(222.5,204.8) scale(1,1.06)" class="b" style="font-size:22.2px">V</text>
<text x="222.2" y="232.6" class="e" style="font-size:24.5px;stroke:#000;stroke-width:0.35">&#949;</text>
<text transform="translate(23.7,171.2) rotate(-90)" text-anchor="middle" class="b" style="font-size:27.6px">CDF</text>
<text transform="translate(298.6,370.2) scale(1,1.02)" class="b" style="font-size:26.3px">|j|/j</text>
<text x="333.4" y="378.3" class="b" style="font-size:15.8px">rms</text>
<line x1="125.70" y1="710.00" x2="125.70" y2="408.00" stroke="#777" stroke-width="1" stroke-dasharray="7.6 7.7"/>
<line x1="201.50" y1="710.00" x2="201.50" y2="408.00" stroke="#777" stroke-width="1" stroke-dasharray="7.6 7.7"/>
<line x1="277.30" y1="710.00" x2="277.30" y2="408.00" stroke="#777" stroke-width="1" stroke-dasharray="7.6 7.7"/>
<line x1="353.10" y1="710.00" x2="353.10" y2="408.00" stroke="#777" stroke-width="1" stroke-dasharray="7.6 7.7"/>
<line x1="428.90" y1="710.00" x2="428.90" y2="408.00" stroke="#777" stroke-width="1" stroke-dasharray="7.6 7.7"/>
<line x1="504.70" y1="710.00" x2="504.70" y2="408.00" stroke="#777" stroke-width="1" stroke-dasharray="7.6 7.7"/>
<line x1="78.70" y1="669.90" x2="580.50" y2="669.90" stroke="#777" stroke-width="1" stroke-dasharray="7.6 7.7"/>
<line x1="78.70" y1="582.60" x2="580.50" y2="582.60" stroke="#777" stroke-width="1" stroke-dasharray="7.6 7.7"/>
<line x1="78.70" y1="495.30" x2="580.50" y2="495.30" stroke="#777" stroke-width="1" stroke-dasharray="7.6 7.7"/>
<path d="M78.70,709.78 L79.70,708.72 L80.71,707.66 L81.71,706.58 L82.72,705.51 L83.72,704.43 L84.73,703.34 L85.73,702.24 L86.74,701.15 L87.74,700.04 L88.75,698.93 L89.75,697.82 L90.76,696.70 L91.76,695.58 L92.76,694.45 L93.77,693.32 L94.77,692.19 L95.78,691.05 L96.78,689.91 L97.79,688.76 L98.79,687.61 L99.80,686.46 L100.80,685.30 L101.81,684.15 L102.81,682.99 L103.82,681.82 L104.82,680.66 L105.82,679.49 L106.83,678.32 L107.83,677.15 L108.84,675.98 L109.84,674.81 L110.85,673.63 L111.85,672.46 L112.86,671.28 L113.86,670.10 L114.87,668.92 L115.87,667.75 L116.88,666.57 L117.88,665.39 L118.88,664.21 L119.89,663.03 L120.89,661.85 L121.90,660.68 L122.90,659.50 L123.91,658.32 L124.91,657.15 L125.92,655.98 L126.92,654.80 L127.93,653.63 L128.93,652.46 L129.94,651.30 L130.94,650.13 L131.94,648.97 L132.95,647.80 L133.95,646.64 L134.96,645.48 L135.96,644.32 L136.97,643.17 L137.97,642.01 L138.98,640.86 L139.98,639.71 L140.99,638.56 L141.99,637.41 L142.99,636.26 L144.00,635.11 L145.00,633.97 L146.01,632.83 L147.01,631.69 L148.02,630.55 L149.02,629.41 L150.03,628.27 L151.03,627.14 L152.04,626.00 L153.04,624.87 L154.05,623.74 L155.05,622.61 L156.05,621.49 L157.06,620.36 L158.06,619.24 L159.07,618.12 L160.07,617.00 L161.08,615.88 L162.08,614.77 L163.09,613.65 L164.09,612.54 L165.10,611.43 L166.10,610.32 L167.11,609.21 L168.11,608.10 L169.11,607.00 L170.12,605.90 L171.12,604.80 L172.13,603.70 L173.13,602.60 L174.14,601.51 L175.14,600.41 L176.15,599.32 L177.15,598.23 L178.16,597.14 L179.16,596.06 L180.17,594.98 L181.17,593.89 L182.17,592.81 L183.18,591.73 L184.18,590.66 L185.19,589.58 L186.19,588.51 L187.20,587.44 L188.20,586.37 L189.21,585.30 L190.21,584.24 L191.22,583.18 L192.22,582.11 L193.23,581.05 L194.23,580.00 L195.23,578.94 L196.24,577.89 L197.24,576.84 L198.25,575.79 L199.25,574.74 L200.26,573.70 L201.26,572.65 L202.27,571.61 L203.27,570.57 L204.28,569.54 L205.28,568.50 L206.29,567.47 L207.29,566.44 L208.29,565.41 L209.30,564.38 L210.30,563.36 L211.31,562.33 L212.31,561.31 L213.32,560.30 L214.32,559.28 L215.33,558.27 L216.33,557.26 L217.34,556.25 L218.34,555.24 L219.35,554.24 L220.35,553.23 L221.35,552.23 L222.36,551.23 L223.36,550.24 L224.37,549.25 L225.37,548.25 L226.38,547.27 L227.38,546.28 L228.39,545.30 L229.39,544.31 L230.40,543.33 L231.40,542.36 L232.41,541.38 L233.41,540.41 L234.41,539.44 L235.42,538.47 L236.42,537.51 L237.43,536.54 L238.43,535.58 L239.44,534.63 L240.44,533.67 L241.45,532.72 L242.45,531.77 L243.46,530.82 L244.46,529.87 L245.47,528.93 L246.47,527.99 L247.47,527.05 L248.48,526.12 L249.48,525.19 L250.49,524.26 L251.49,523.33 L252.50,522.40 L253.50,521.48 L254.51,520.56 L255.51,519.64 L256.52,518.73 L257.52,517.82 L258.53,516.91 L259.53,516.00 L260.53,515.10 L261.54,514.19 L262.54,513.30 L263.55,512.40 L264.55,511.51 L265.56,510.62 L266.56,509.73 L267.57,508.84 L268.57,507.96 L269.58,507.08 L270.58,506.21 L271.58,505.34 L272.59,504.47 L273.59,503.61 L274.60,502.75 L275.60,501.89 L276.61,501.04 L277.61,500.19 L278.62,499.34 L279.62,498.50 L280.63,497.67 L281.63,496.83 L282.64,496.01 L283.64,495.18 L284.64,494.37 L285.65,493.55 L286.65,492.75 L287.66,491.94 L288.66,491.14 L289.67,490.35 L290.67,489.56 L291.68,488.78 L292.68,488.00 L293.69,487.23 L294.69,486.47 L295.70,485.71 L296.70,484.95 L297.70,484.21 L298.71,483.46 L299.71,482.73 L300.72,482.00 L301.72,481.28 L302.73,480.56 L303.73,479.85 L304.74,479.15 L305.74,478.45 L306.75,477.76 L307.75,477.07 L308.76,476.40 L309.76,475.72 L310.76,475.06 L311.77,474.39 L312.77,473.74 L313.78,473.09 L314.78,472.44 L315.79,471.80 L316.79,471.17 L317.80,470.54 L318.80,469.91 L319.81,469.29 L320.81,468.68 L321.82,468.07 L322.82,467.46 L323.82,466.86 L324.83,466.26 L325.83,465.67 L326.84,465.08 L327.84,464.50 L328.85,463.91 L329.85,463.34 L330.86,462.76 L331.86,462.19 L332.87,461.63 L333.87,461.06 L334.88,460.50 L335.88,459.94 L336.88,459.39 L337.89,458.84 L338.89,458.29 L339.90,457.75 L340.90,457.20 L341.91,456.66 L342.91,456.12 L343.92,455.59 L344.92,455.06 L345.93,454.53 L346.93,454.00 L347.94,453.48 L348.94,452.96 L349.94,452.44 L350.95,451.93 L351.95,451.41 L352.96,450.91 L353.96,450.40 L354.97,449.90 L355.97,449.40 L356.98,448.91 L357.98,448.42 L358.99,447.93 L359.99,447.45 L361.00,446.97 L362.00,446.50 L363.00,446.03 L364.01,445.56 L365.01,445.09 L366.02,444.63 L367.02,444.18 L368.03,443.73 L369.03,443.28 L370.04,442.84 L371.04,442.40 L372.05,441.97 L373.05,441.54 L374.06,441.11 L375.06,440.69 L376.06,440.27 L377.07,439.86 L378.07,439.45 L379.08,439.05 L380.08,438.65 L381.09,438.25 L382.09,437.86 L383.10,437.48 L384.10,437.09 L385.11,436.71 L386.11,436.34 L387.12,435.97 L388.12,435.60 L389.12,435.24 L390.13,434.88 L391.13,434.53 L392.14,434.18 L393.14,433.83 L394.15,433.49 L395.15,433.15 L396.16,432.82 L397.16,432.49 L398.17,432.16 L399.17,431.84 L400.17,431.52 L401.18,431.21 L402.18,430.90 L403.19,430.59 L404.19,430.29 L405.20,429.99 L406.20,429.69 L407.21,429.40 L408.21,429.12 L409.22,428.83 L410.22,428.55 L411.23,428.28 L412.23,428.00 L413.23,427.74 L414.24,427.47 L415.24,427.21 L416.25,426.95 L417.25,426.70 L418.26,426.45 L419.26,426.20 L420.27,425.96 L421.27,425.72 L422.28,425.49 L423.28,425.25 L424.29,425.03 L425.29,424.80 L426.29,424.58 L427.30,424.36 L428.30,424.15 L429.31,423.94 L430.31,423.73 L431.32,423.53 L432.32,423.33 L433.33,423.13 L434.33,422.94 L435.34,422.75 L436.34,422.56 L437.35,422.37 L438.35,422.19 L439.35,422.01 L440.36,421.84 L441.36,421.67 L442.37,421.50 L443.37,421.33 L444.38,421.17 L445.38,421.00 L446.39,420.84 L447.39,420.69 L448.40,420.53 L449.40,420.38 L450.41,420.23 L451.41,420.08 L452.41,419.94 L453.42,419.79 L454.42,419.65 L455.43,419.51 L456.43,419.38 L457.44,419.24 L458.44,419.11 L459.45,418.98 L460.45,418.85 L461.46,418.72 L462.46,418.59 L463.47,418.47 L464.47,418.34 L465.47,418.22 L466.48,418.10 L467.48,417.98 L468.49,417.86 L469.49,417.74 L470.50,417.63 L471.50,417.51 L472.51,417.40 L473.51,417.29 L474.52,417.17 L475.52,417.06 L476.53,416.95 L477.53,416.84 L478.53,416.73 L479.54,416.62 L480.54,416.52 L481.55,416.41 L482.55,416.30 L483.56,416.19 L484.56,416.09 L485.57,415.98 L486.57,415.88 L487.58,415.77 L488.58,415.66 L489.59,415.56 L490.59,415.45 L491.59,415.35 L492.60,415.24 L493.60,415.13 L494.61,415.03 L495.61,414.92 L496.62,414.81 L497.62,414.70 L498.63,414.60 L499.63,414.49 L500.64,414.38 L501.64,414.27 L502.65,414.16 L503.65,414.04 L504.65,413.93 L505.66,413.82 L506.66,413.70 L507.67,413.59 L508.67,413.47 L509.68,413.35 L510.68,413.23 L511.69,413.11 L512.69,412.99 L513.70,412.87 L514.70,412.74 L515.71,412.62 L516.71,412.49 L517.71,412.36 L518.72,412.23 L519.72,412.10 L520.73,411.96 L521.73,411.83 L522.74,411.69 L523.74,411.55 L524.75,411.41 L525.75,411.27 L526.76,411.13 L527.76,410.98 L528.76,410.84 L529.77,410.70 L530.77,410.56 L531.78,410.41 L532.78,410.27 L533.79,410.13 L534.79,409.99 L535.80,409.85 L536.80,409.72 L537.81,409.58 L538.81,409.45 L539.82,409.31 L540.82,409.18 L541.82,409.06 L542.83,408.93 L543.83,408.81 L544.84,408.69 L545.84,408.60 L546.85,408.60 L547.85,408.60 L548.86,408.60 L549.86,408.60 L550.87,408.60 L551.87,408.60 L552.88,408.60 L553.88,408.60 L554.88,408.60 L555.89,408.60 L556.89,408.60 L557.90,408.60 L558.90,408.60 L559.91,408.60 L560.91,408.60 L561.92,408.60 L562.92,408.60 L563.93,408.60 L564.93,408.60 L565.94,408.60 L566.94,408.60 L567.94,408.60 L568.95,408.60 L569.95,408.60 L570.96,408.60 L571.96,408.60 L572.97,408.60 L573.97,408.60 L574.98,408.60 L575.98,408.60 L576.99,408.60 L577.99,408.60 L579.00,408.60 L580.00,408.60" fill="none" stroke="#ad1313" stroke-width="2.4" stroke-linejoin="round" />
<line x1="86.07" y1="710.00" x2="86.07" y2="705.50" stroke="#000" stroke-width="0.8" />
<line x1="86.07" y1="408.00" x2="86.07" y2="412.50" stroke="#000" stroke-width="0.8" />
<line x1="95.54" y1="710.00" x2="95.54" y2="705.50" stroke="#000" stroke-width="0.8" />
<line x1="95.54" y1="408.00" x2="95.54" y2="412.50" stroke="#000" stroke-width="0.8" />
<line x1="102.88" y1="710.00" x2="102.88" y2="705.50" stroke="#000" stroke-width="0.8" />
<line x1="102.88" y1="408.00" x2="102.88" y2="412.50" stroke="#000" stroke-width="0.8" />
<line x1="108.88" y1="710.00" x2="108.88" y2="705.50" stroke="#000" stroke-width="0.8" />
<line x1="108.88" y1="408.00" x2="108.88" y2="412.50" stroke="#000" stroke-width="0.8" />
<line x1="113.96" y1="710.00" x2="113.96" y2="705.50" stroke="#000" stroke-width="0.8" />
<line x1="113.96" y1="408.00" x2="113.96" y2="412.50" stroke="#000" stroke-width="0.8" />
<line x1="118.35" y1="710.00" x2="118.35" y2="705.50" stroke="#000" stroke-width="0.8" />
<line x1="118.35" y1="408.00" x2="118.35" y2="412.50" stroke="#000" stroke-width="0.8" />
<line x1="122.23" y1="710.00" x2="122.23" y2="705.50" stroke="#000" stroke-width="0.8" />
<line x1="122.23" y1="408.00" x2="122.23" y2="412.50" stroke="#000" stroke-width="0.8" />
<line x1="125.70" y1="710.00" x2="125.70" y2="702.50" stroke="#000" stroke-width="1.5" />
<line x1="125.70" y1="408.00" x2="125.70" y2="415.50" stroke="#000" stroke-width="1.5" />
<line x1="148.52" y1="710.00" x2="148.52" y2="705.50" stroke="#000" stroke-width="0.8" />
<line x1="148.52" y1="408.00" x2="148.52" y2="412.50" stroke="#000" stroke-width="0.8" />
<line x1="161.87" y1="710.00" x2="161.87" y2="705.50" stroke="#000" stroke-width="0.8" />
<line x1="161.87" y1="408.00" x2="161.87" y2="412.50" stroke="#000" stroke-width="0.8" />
<line x1="171.34" y1="710.00" x2="171.34" y2="705.50" stroke="#000" stroke-width="0.8" />
<line x1="171.34" y1="408.00" x2="171.34" y2="412.50" stroke="#000" stroke-width="0.8" />
<line x1="178.68" y1="710.00" x2="178.68" y2="705.50" stroke="#000" stroke-width="0.8" />
<line x1="178.68" y1="408.00" x2="178.68" y2="412.50" stroke="#000" stroke-width="0.8" />
<line x1="184.68" y1="710.00" x2="184.68" y2="705.50" stroke="#000" stroke-width="0.8" />
<line x1="184.68" y1="408.00" x2="184.68" y2="412.50" stroke="#000" stroke-width="0.8" />
<line x1="189.76" y1="710.00" x2="189.76" y2="705.50" stroke="#000" stroke-width="0.8" />
<line x1="189.76" y1="408.00" x2="189.76" y2="412.50" stroke="#000" stroke-width="0.8" />
<line x1="194.15" y1="710.00" x2="194.15" y2="705.50" stroke="#000" stroke-width="0.8" />
<line x1="194.15" y1="408.00" x2="194.15" y2="412.50" stroke="#000" stroke-width="0.8" />
<line x1="198.03" y1="710.00" x2="198.03" y2="705.50" stroke="#000" stroke-width="0.8" />
<line x1="198.03" y1="408.00" x2="198.03" y2="412.50" stroke="#000" stroke-width="0.8" />
<line x1="201.50" y1="710.00" x2="201.50" y2="702.50" stroke="#000" stroke-width="1.5" />
<line x1="201.50" y1="408.00" x2="201.50" y2="415.50" stroke="#000" stroke-width="1.5" />
<line x1="224.32" y1="710.00" x2="224.32" y2="705.50" stroke="#000" stroke-width="0.8" />
<line x1="224.32" y1="408.00" x2="224.32" y2="412.50" stroke="#000" stroke-width="0.8" />
<line x1="237.67" y1="710.00" x2="237.67" y2="705.50" stroke="#000" stroke-width="0.8" />
<line x1="237.67" y1="408.00" x2="237.67" y2="412.50" stroke="#000" stroke-width="0.8" />
<line x1="247.14" y1="710.00" x2="247.14" y2="705.50" stroke="#000" stroke-width="0.8" />
<line x1="247.14" y1="408.00" x2="247.14" y2="412.50" stroke="#000" stroke-width="0.8" />
<line x1="254.48" y1="710.00" x2="254.48" y2="705.50" stroke="#000" stroke-width="0.8" />
<line x1="254.48" y1="408.00" x2="254.48" y2="412.50" stroke="#000" stroke-width="0.8" />
<line x1="260.48" y1="710.00" x2="260.48" y2="705.50" stroke="#000" stroke-width="0.8" />
<line x1="260.48" y1="408.00" x2="260.48" y2="412.50" stroke="#000" stroke-width="0.8" />
<line x1="265.56" y1="710.00" x2="265.56" y2="705.50" stroke="#000" stroke-width="0.8" />
<line x1="265.56" y1="408.00" x2="265.56" y2="412.50" stroke="#000" stroke-width="0.8" />
<line x1="269.95" y1="710.00" x2="269.95" y2="705.50" stroke="#000" stroke-width="0.8" />
<line x1="269.95" y1="408.00" x2="269.95" y2="412.50" stroke="#000" stroke-width="0.8" />
<line x1="273.83" y1="710.00" x2="273.83" y2="705.50" stroke="#000" stroke-width="0.8" />
<line x1="273.83" y1="408.00" x2="273.83" y2="412.50" stroke="#000" stroke-width="0.8" />
<line x1="277.30" y1="710.00" x2="277.30" y2="702.50" stroke="#000" stroke-width="1.5" />
<line x1="277.30" y1="408.00" x2="277.30" y2="415.50" stroke="#000" stroke-width="1.5" />
<line x1="300.12" y1="710.00" x2="300.12" y2="705.50" stroke="#000" stroke-width="0.8" />
<line x1="300.12" y1="408.00" x2="300.12" y2="412.50" stroke="#000" stroke-width="0.8" />
<line x1="313.47" y1="710.00" x2="313.47" y2="705.50" stroke="#000" stroke-width="0.8" />
<line x1="313.47" y1="408.00" x2="313.47" y2="412.50" stroke="#000" stroke-width="0.8" />
<line x1="322.94" y1="710.00" x2="322.94" y2="705.50" stroke="#000" stroke-width="0.8" />
<line x1="322.94" y1="408.00" x2="322.94" y2="412.50" stroke="#000" stroke-width="0.8" />
<line x1="330.28" y1="710.00" x2="330.28" y2="705.50" stroke="#000" stroke-width="0.8" />
<line x1="330.28" y1="408.00" x2="330.28" y2="412.50" stroke="#000" stroke-width="0.8" />
<line x1="336.28" y1="710.00" x2="336.28" y2="705.50" stroke="#000" stroke-width="0.8" />
<line x1="336.28" y1="408.00" x2="336.28" y2="412.50" stroke="#000" stroke-width="0.8" />
<line x1="341.36" y1="710.00" x2="341.36" y2="705.50" stroke="#000" stroke-width="0.8" />
<line x1="341.36" y1="408.00" x2="341.36" y2="412.50" stroke="#000" stroke-width="0.8" />
<line x1="345.75" y1="710.00" x2="345.75" y2="705.50" stroke="#000" stroke-width="0.8" />
<line x1="345.75" y1="408.00" x2="345.75" y2="412.50" stroke="#000" stroke-width="0.8" />
<line x1="349.63" y1="710.00" x2="349.63" y2="705.50" stroke="#000" stroke-width="0.8" />
<line x1="349.63" y1="408.00" x2="349.63" y2="412.50" stroke="#000" stroke-width="0.8" />
<line x1="353.10" y1="710.00" x2="353.10" y2="702.50" stroke="#000" stroke-width="1.5" />
<line x1="353.10" y1="408.00" x2="353.10" y2="415.50" stroke="#000" stroke-width="1.5" />
<line x1="375.92" y1="710.00" x2="375.92" y2="705.50" stroke="#000" stroke-width="0.8" />
<line x1="375.92" y1="408.00" x2="375.92" y2="412.50" stroke="#000" stroke-width="0.8" />
<line x1="389.27" y1="710.00" x2="389.27" y2="705.50" stroke="#000" stroke-width="0.8" />
<line x1="389.27" y1="408.00" x2="389.27" y2="412.50" stroke="#000" stroke-width="0.8" />
<line x1="398.74" y1="710.00" x2="398.74" y2="705.50" stroke="#000" stroke-width="0.8" />
<line x1="398.74" y1="408.00" x2="398.74" y2="412.50" stroke="#000" stroke-width="0.8" />
<line x1="406.08" y1="710.00" x2="406.08" y2="705.50" stroke="#000" stroke-width="0.8" />
<line x1="406.08" y1="408.00" x2="406.08" y2="412.50" stroke="#000" stroke-width="0.8" />
<line x1="412.08" y1="710.00" x2="412.08" y2="705.50" stroke="#000" stroke-width="0.8" />
<line x1="412.08" y1="408.00" x2="412.08" y2="412.50" stroke="#000" stroke-width="0.8" />
<line x1="417.16" y1="710.00" x2="417.16" y2="705.50" stroke="#000" stroke-width="0.8" />
<line x1="417.16" y1="408.00" x2="417.16" y2="412.50" stroke="#000" stroke-width="0.8" />
<line x1="421.55" y1="710.00" x2="421.55" y2="705.50" stroke="#000" stroke-width="0.8" />
<line x1="421.55" y1="408.00" x2="421.55" y2="412.50" stroke="#000" stroke-width="0.8" />
<line x1="425.43" y1="710.00" x2="425.43" y2="705.50" stroke="#000" stroke-width="0.8" />
<line x1="425.43" y1="408.00" x2="425.43" y2="412.50" stroke="#000" stroke-width="0.8" />
<line x1="428.90" y1="710.00" x2="428.90" y2="702.50" stroke="#000" stroke-width="1.5" />
<line x1="428.90" y1="408.00" x2="428.90" y2="415.50" stroke="#000" stroke-width="1.5" />
<line x1="451.72" y1="710.00" x2="451.72" y2="705.50" stroke="#000" stroke-width="0.8" />
<line x1="451.72" y1="408.00" x2="451.72" y2="412.50" stroke="#000" stroke-width="0.8" />
<line x1="465.07" y1="710.00" x2="465.07" y2="705.50" stroke="#000" stroke-width="0.8" />
<line x1="465.07" y1="408.00" x2="465.07" y2="412.50" stroke="#000" stroke-width="0.8" />
<line x1="474.54" y1="710.00" x2="474.54" y2="705.50" stroke="#000" stroke-width="0.8" />
<line x1="474.54" y1="408.00" x2="474.54" y2="412.50" stroke="#000" stroke-width="0.8" />
<line x1="481.88" y1="710.00" x2="481.88" y2="705.50" stroke="#000" stroke-width="0.8" />
<line x1="481.88" y1="408.00" x2="481.88" y2="412.50" stroke="#000" stroke-width="0.8" />
<line x1="487.88" y1="710.00" x2="487.88" y2="705.50" stroke="#000" stroke-width="0.8" />
<line x1="487.88" y1="408.00" x2="487.88" y2="412.50" stroke="#000" stroke-width="0.8" />
<line x1="492.96" y1="710.00" x2="492.96" y2="705.50" stroke="#000" stroke-width="0.8" />
<line x1="492.96" y1="408.00" x2="492.96" y2="412.50" stroke="#000" stroke-width="0.8" />
<line x1="497.35" y1="710.00" x2="497.35" y2="705.50" stroke="#000" stroke-width="0.8" />
<line x1="497.35" y1="408.00" x2="497.35" y2="412.50" stroke="#000" stroke-width="0.8" />
<line x1="501.23" y1="710.00" x2="501.23" y2="705.50" stroke="#000" stroke-width="0.8" />
<line x1="501.23" y1="408.00" x2="501.23" y2="412.50" stroke="#000" stroke-width="0.8" />
<line x1="504.70" y1="710.00" x2="504.70" y2="702.50" stroke="#000" stroke-width="1.5" />
<line x1="504.70" y1="408.00" x2="504.70" y2="415.50" stroke="#000" stroke-width="1.5" />
<line x1="527.52" y1="710.00" x2="527.52" y2="705.50" stroke="#000" stroke-width="0.8" />
<line x1="527.52" y1="408.00" x2="527.52" y2="412.50" stroke="#000" stroke-width="0.8" />
<line x1="540.87" y1="710.00" x2="540.87" y2="705.50" stroke="#000" stroke-width="0.8" />
<line x1="540.87" y1="408.00" x2="540.87" y2="412.50" stroke="#000" stroke-width="0.8" />
<line x1="550.34" y1="710.00" x2="550.34" y2="705.50" stroke="#000" stroke-width="0.8" />
<line x1="550.34" y1="408.00" x2="550.34" y2="412.50" stroke="#000" stroke-width="0.8" />
<line x1="557.68" y1="710.00" x2="557.68" y2="705.50" stroke="#000" stroke-width="0.8" />
<line x1="557.68" y1="408.00" x2="557.68" y2="412.50" stroke="#000" stroke-width="0.8" />
<line x1="563.68" y1="710.00" x2="563.68" y2="705.50" stroke="#000" stroke-width="0.8" />
<line x1="563.68" y1="408.00" x2="563.68" y2="412.50" stroke="#000" stroke-width="0.8" />
<line x1="568.76" y1="710.00" x2="568.76" y2="705.50" stroke="#000" stroke-width="0.8" />
<line x1="568.76" y1="408.00" x2="568.76" y2="412.50" stroke="#000" stroke-width="0.8" />
<line x1="573.15" y1="710.00" x2="573.15" y2="705.50" stroke="#000" stroke-width="0.8" />
<line x1="573.15" y1="408.00" x2="573.15" y2="412.50" stroke="#000" stroke-width="0.8" />
<line x1="577.03" y1="710.00" x2="577.03" y2="705.50" stroke="#000" stroke-width="0.8" />
<line x1="577.03" y1="408.00" x2="577.03" y2="412.50" stroke="#000" stroke-width="0.8" />
<line x1="580.50" y1="710.00" x2="580.50" y2="702.50" stroke="#000" stroke-width="1.5" />
<line x1="580.50" y1="408.00" x2="580.50" y2="415.50" stroke="#000" stroke-width="1.5" />
<line x1="78.70" y1="704.64" x2="83.20" y2="704.64" stroke="#000" stroke-width="0.8" />
<line x1="580.50" y1="704.64" x2="576.00" y2="704.64" stroke="#000" stroke-width="0.8" />
<line x1="78.70" y1="696.18" x2="83.20" y2="696.18" stroke="#000" stroke-width="0.8" />
<line x1="580.50" y1="696.18" x2="576.00" y2="696.18" stroke="#000" stroke-width="0.8" />
<line x1="78.70" y1="689.27" x2="83.20" y2="689.27" stroke="#000" stroke-width="0.8" />
<line x1="580.50" y1="689.27" x2="576.00" y2="689.27" stroke="#000" stroke-width="0.8" />
<line x1="78.70" y1="683.42" x2="83.20" y2="683.42" stroke="#000" stroke-width="0.8" />
<line x1="580.50" y1="683.42" x2="576.00" y2="683.42" stroke="#000" stroke-width="0.8" />
<line x1="78.70" y1="678.36" x2="83.20" y2="678.36" stroke="#000" stroke-width="0.8" />
<line x1="580.50" y1="678.36" x2="576.00" y2="678.36" stroke="#000" stroke-width="0.8" />
<line x1="78.70" y1="673.89" x2="83.20" y2="673.89" stroke="#000" stroke-width="0.8" />
<line x1="580.50" y1="673.89" x2="576.00" y2="673.89" stroke="#000" stroke-width="0.8" />
<line x1="78.70" y1="669.90" x2="86.20" y2="669.90" stroke="#000" stroke-width="1.5" />
<line x1="580.50" y1="669.90" x2="573.00" y2="669.90" stroke="#000" stroke-width="1.5" />
<line x1="78.70" y1="643.62" x2="83.20" y2="643.62" stroke="#000" stroke-width="0.8" />
<line x1="580.50" y1="643.62" x2="576.00" y2="643.62" stroke="#000" stroke-width="0.8" />
<line x1="78.70" y1="628.25" x2="83.20" y2="628.25" stroke="#000" stroke-width="0.8" />
<line x1="580.50" y1="628.25" x2="576.00" y2="628.25" stroke="#000" stroke-width="0.8" />
<line x1="78.70" y1="617.34" x2="83.20" y2="617.34" stroke="#000" stroke-width="0.8" />
<line x1="580.50" y1="617.34" x2="576.00" y2="617.34" stroke="#000" stroke-width="0.8" />
<line x1="78.70" y1="608.88" x2="83.20" y2="608.88" stroke="#000" stroke-width="0.8" />
<line x1="580.50" y1="608.88" x2="576.00" y2="608.88" stroke="#000" stroke-width="0.8" />
<line x1="78.70" y1="601.97" x2="83.20" y2="601.97" stroke="#000" stroke-width="0.8" />
<line x1="580.50" y1="601.97" x2="576.00" y2="601.97" stroke="#000" stroke-width="0.8" />
<line x1="78.70" y1="596.12" x2="83.20" y2="596.12" stroke="#000" stroke-width="0.8" />
<line x1="580.50" y1="596.12" x2="576.00" y2="596.12" stroke="#000" stroke-width="0.8" />
<line x1="78.70" y1="591.06" x2="83.20" y2="591.06" stroke="#000" stroke-width="0.8" />
<line x1="580.50" y1="591.06" x2="576.00" y2="591.06" stroke="#000" stroke-width="0.8" />
<line x1="78.70" y1="586.59" x2="83.20" y2="586.59" stroke="#000" stroke-width="0.8" />
<line x1="580.50" y1="586.59" x2="576.00" y2="586.59" stroke="#000" stroke-width="0.8" />
<line x1="78.70" y1="582.60" x2="86.20" y2="582.60" stroke="#000" stroke-width="1.5" />
<line x1="580.50" y1="582.60" x2="573.00" y2="582.60" stroke="#000" stroke-width="1.5" />
<line x1="78.70" y1="556.32" x2="83.20" y2="556.32" stroke="#000" stroke-width="0.8" />
<line x1="580.50" y1="556.32" x2="576.00" y2="556.32" stroke="#000" stroke-width="0.8" />
<line x1="78.70" y1="540.95" x2="83.20" y2="540.95" stroke="#000" stroke-width="0.8" />
<line x1="580.50" y1="540.95" x2="576.00" y2="540.95" stroke="#000" stroke-width="0.8" />
<line x1="78.70" y1="530.04" x2="83.20" y2="530.04" stroke="#000" stroke-width="0.8" />
<line x1="580.50" y1="530.04" x2="576.00" y2="530.04" stroke="#000" stroke-width="0.8" />
<line x1="78.70" y1="521.58" x2="83.20" y2="521.58" stroke="#000" stroke-width="0.8" />
<line x1="580.50" y1="521.58" x2="576.00" y2="521.58" stroke="#000" stroke-width="0.8" />
<line x1="78.70" y1="514.67" x2="83.20" y2="514.67" stroke="#000" stroke-width="0.8" />
<line x1="580.50" y1="514.67" x2="576.00" y2="514.67" stroke="#000" stroke-width="0.8" />
<line x1="78.70" y1="508.82" x2="83.20" y2="508.82" stroke="#000" stroke-width="0.8" />
<line x1="580.50" y1="508.82" x2="576.00" y2="508.82" stroke="#000" stroke-width="0.8" />
<line x1="78.70" y1="503.76" x2="83.20" y2="503.76" stroke="#000" stroke-width="0.8" />
<line x1="580.50" y1="503.76" x2="576.00" y2="503.76" stroke="#000" stroke-width="0.8" />
<line x1="78.70" y1="499.29" x2="83.20" y2="499.29" stroke="#000" stroke-width="0.8" />
<line x1="580.50" y1="499.29" x2="576.00" y2="499.29" stroke="#000" stroke-width="0.8" />
<line x1="78.70" y1="495.30" x2="86.20" y2="495.30" stroke="#000" stroke-width="1.5" />
<line x1="580.50" y1="495.30" x2="573.00" y2="495.30" stroke="#000" stroke-width="1.5" />
<line x1="78.70" y1="469.02" x2="83.20" y2="469.02" stroke="#000" stroke-width="0.8" />
<line x1="580.50" y1="469.02" x2="576.00" y2="469.02" stroke="#000" stroke-width="0.8" />
<line x1="78.70" y1="453.65" x2="83.20" y2="453.65" stroke="#000" stroke-width="0.8" />
<line x1="580.50" y1="453.65" x2="576.00" y2="453.65" stroke="#000" stroke-width="0.8" />
<line x1="78.70" y1="442.74" x2="83.20" y2="442.74" stroke="#000" stroke-width="0.8" />
<line x1="580.50" y1="442.74" x2="576.00" y2="442.74" stroke="#000" stroke-width="0.8" />
<line x1="78.70" y1="434.28" x2="83.20" y2="434.28" stroke="#000" stroke-width="0.8" />
<line x1="580.50" y1="434.28" x2="576.00" y2="434.28" stroke="#000" stroke-width="0.8" />
<line x1="78.70" y1="427.37" x2="83.20" y2="427.37" stroke="#000" stroke-width="0.8" />
<line x1="580.50" y1="427.37" x2="576.00" y2="427.37" stroke="#000" stroke-width="0.8" />
<line x1="78.70" y1="421.52" x2="83.20" y2="421.52" stroke="#000" stroke-width="0.8" />
<line x1="580.50" y1="421.52" x2="576.00" y2="421.52" stroke="#000" stroke-width="0.8" />
<line x1="78.70" y1="416.46" x2="83.20" y2="416.46" stroke="#000" stroke-width="0.8" />
<line x1="580.50" y1="416.46" x2="576.00" y2="416.46" stroke="#000" stroke-width="0.8" />
<line x1="78.70" y1="411.99" x2="83.20" y2="411.99" stroke="#000" stroke-width="0.8" />
<line x1="580.50" y1="411.99" x2="576.00" y2="411.99" stroke="#000" stroke-width="0.8" />
<line x1="78.70" y1="408.00" x2="86.20" y2="408.00" stroke="#000" stroke-width="1.5" />
<line x1="580.50" y1="408.00" x2="573.00" y2="408.00" stroke="#000" stroke-width="1.5" />
<rect x="78.7" y="408.0" width="501.80" height="302.00" fill="none" stroke="#000" stroke-width="1.8"/>
<text transform="translate(57.50,679.10) scale(1.04,1.05)" text-anchor="end" class="t" style="font-size:26px">0</text>
<path d="M37.40,679.10 L37.40,660.35 L34.95,660.35 L32.35,663.05 L30.20,663.25 L30.20,665.25 L33.35,665.25 L34.95,666.65 L34.95,679.10Z" fill="#000"/>
<path d="M69.60,665.50 L69.60,655.40 L68.28,655.40 L66.88,656.86 L65.72,656.97 L65.72,658.04 L67.42,658.04 L68.28,658.80 L68.28,665.50Z" fill="#000"/>
<line x1="59.10" y1="661.40" x2="63.20" y2="661.40" stroke="#000" stroke-width="1.3"/>
<text transform="translate(63.60,591.80) scale(1.04,1.05)" text-anchor="end" class="t" style="font-size:26px">0</text>
<path d="M43.50,591.80 L43.50,573.05 L41.05,573.05 L38.45,575.75 L36.30,575.95 L36.30,577.95 L39.45,577.95 L41.05,579.35 L41.05,591.80Z" fill="#000"/>
<text transform="translate(72.30,578.20) scale(1.0,1.05)" text-anchor="end" class="t" style="font-size:14px">0</text>
<text transform="translate(63.60,504.50) scale(1.04,1.05)" text-anchor="end" class="t" style="font-size:26px">0</text>
<path d="M43.50,504.50 L43.50,485.75 L41.05,485.75 L38.45,488.45 L36.30,488.65 L36.30,490.65 L39.45,490.65 L41.05,492.05 L41.05,504.50Z" fill="#000"/>
<path d="M69.60,490.90 L69.60,480.80 L68.28,480.80 L66.88,482.26 L65.72,482.37 L65.72,483.44 L67.42,483.44 L68.28,484.20 L68.28,490.90Z" fill="#000"/>
<text transform="translate(63.60,417.20) scale(1.04,1.05)" text-anchor="end" class="t" style="font-size:26px">0</text>
<path d="M43.50,417.20 L43.50,398.45 L41.05,398.45 L38.45,401.15 L36.30,401.35 L36.30,403.35 L39.45,403.35 L41.05,404.75 L41.05,417.20Z" fill="#000"/>
<text transform="translate(72.30,403.60) scale(1.0,1.05)" text-anchor="end" class="t" style="font-size:14px">2</text>
<text transform="translate(133.00,737.50) scale(1.04,1.05)" text-anchor="end" class="t" style="font-size:26px">0</text>
<path d="M112.90,737.50 L112.90,718.75 L110.45,718.75 L107.85,721.45 L105.70,721.65 L105.70,723.65 L108.85,723.65 L110.45,725.05 L110.45,737.50Z" fill="#000"/>
<text transform="translate(148.10,724.50) scale(1.0,1.05)" text-anchor="end" class="t" style="font-size:14px">4</text>
<line x1="134.60" y1="720.40" x2="138.50" y2="720.40" stroke="#000" stroke-width="1.3"/>
<text transform="translate(208.80,737.50) scale(1.04,1.05)" text-anchor="end" class="t" style="font-size:26px">0</text>
<path d="M188.70,737.50 L188.70,718.75 L186.25,718.75 L183.65,721.45 L181.50,721.65 L181.50,723.65 L184.65,723.65 L186.25,725.05 L186.25,737.50Z" fill="#000"/>
<text transform="translate(223.90,724.50) scale(1.0,1.05)" text-anchor="end" class="t" style="font-size:14px">3</text>
<line x1="210.40" y1="720.40" x2="214.30" y2="720.40" stroke="#000" stroke-width="1.3"/>
<text transform="translate(284.60,737.50) scale(1.04,1.05)" text-anchor="end" class="t" style="font-size:26px">0</text>
<path d="M264.50,737.50 L264.50,718.75 L262.05,718.75 L259.45,721.45 L257.30,721.65 L257.30,723.65 L260.45,723.65 L262.05,725.05 L262.05,737.50Z" fill="#000"/>
<text transform="translate(299.70,724.50) scale(1.0,1.05)" text-anchor="end" class="t" style="font-size:14px">2</text>
<line x1="286.20" y1="720.40" x2="290.10" y2="720.40" stroke="#000" stroke-width="1.3"/>
<text transform="translate(360.40,737.50) scale(1.04,1.05)" text-anchor="end" class="t" style="font-size:26px">0</text>
<path d="M340.30,737.50 L340.30,718.75 L337.85,718.75 L335.25,721.45 L333.10,721.65 L333.10,723.65 L336.25,723.65 L337.85,725.05 L337.85,737.50Z" fill="#000"/>
<path d="M372.80,724.50 L372.80,714.40 L371.48,714.40 L370.08,715.86 L368.92,715.97 L368.92,717.04 L370.62,717.04 L371.48,717.80 L371.48,724.50Z" fill="#000"/>
<line x1="362.00" y1="720.40" x2="365.90" y2="720.40" stroke="#000" stroke-width="1.3"/>
<text transform="translate(439.20,737.50) scale(1.04,1.05)" text-anchor="end" class="t" style="font-size:26px">0</text>
<path d="M419.10,737.50 L419.10,718.75 L416.65,718.75 L414.05,721.45 L411.90,721.65 L411.90,723.65 L415.05,723.65 L416.65,725.05 L416.65,737.50Z" fill="#000"/>
<text transform="translate(448.30,724.50) scale(1.0,1.05)" text-anchor="end" class="t" style="font-size:14px">0</text>
<text transform="translate(515.00,737.50) scale(1.04,1.05)" text-anchor="end" class="t" style="font-size:26px">0</text>
<path d="M494.90,737.50 L494.90,718.75 L492.45,718.75 L489.85,721.45 L487.70,721.65 L487.70,723.65 L490.85,723.65 L492.45,725.05 L492.45,737.50Z" fill="#000"/>
<path d="M521.40,724.50 L521.40,714.40 L520.08,714.40 L518.68,715.86 L517.52,715.97 L517.52,717.04 L519.22,717.04 L520.08,717.80 L520.08,724.50Z" fill="#000"/>
<text transform="translate(590.80,737.50) scale(1.04,1.05)" text-anchor="end" class="t" style="font-size:26px">0</text>
<path d="M570.70,737.50 L570.70,718.75 L568.25,718.75 L565.65,721.45 L563.50,721.65 L563.50,723.65 L566.65,723.65 L568.25,725.05 L568.25,737.50Z" fill="#000"/>
<text transform="translate(599.90,724.50) scale(1.0,1.05)" text-anchor="end" class="t" style="font-size:14px">2</text>
<text x="242.10" y="762.7" class="b" style="font-size:27.2px">Volume, V(</text>
<g transform="translate(382.6,762.7)"><circle cx="4.65" cy="-13.95" r="3.2" fill="none" stroke="#000" stroke-width="2.9"/><circle cx="17.5" cy="-4.0" r="3.2" fill="none" stroke="#000" stroke-width="2.9"/><line x1="5.8" y1="-0.2" x2="16.0" y2="-18.6" stroke="#000" stroke-width="1.9"/></g>
<text x="407.4" y="762.7" class="b" style="font-size:27.2px">)</text>
<g transform="translate(23.6,665.0) rotate(-90)"><text class="b" style="font-size:26.8px" x="0.90 21.32 27.66 40.86 56.32 62.73 78.22 93.78 102.42 108.75 124.63 140.18" y="0">Dissipation,</text><text class="e" style="font-size:29.0px;stroke:#000;stroke-width:0.3" x="154.87" y="0">&#949;</text><text class="b" style="font-size:26.8px" x="167.06" y="0">(</text><text class="b" style="font-size:26.8px" x="202.47" y="0">)</text><g transform="translate(177.10,0)"><circle cx="4.65" cy="-13.95" r="3.2" fill="none" stroke="#000" stroke-width="2.9"/><circle cx="17.5" cy="-4.0" r="3.2" fill="none" stroke="#000" stroke-width="2.9"/><line x1="5.8" y1="-0.2" x2="16.0" y2="-18.6" stroke="#000" stroke-width="1.9"/></g></g>
</svg></body></html>
